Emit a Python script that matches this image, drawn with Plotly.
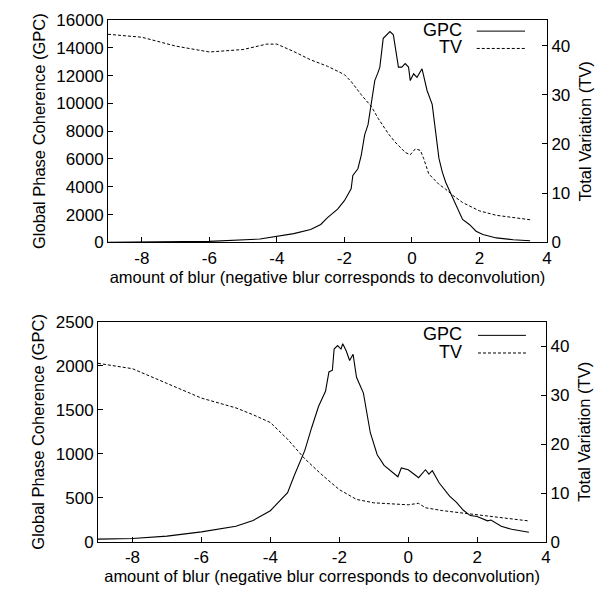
import plotly.graph_objects as go

# ===============================
# DATA
# ===============================
top_gpc_x = [-9, -6, -4.5, -4, -3.5, -3, -2.7, -2.5, -2.2, -2, -1.8, -1.75, -1.6, -1.5, -1.4, -1.3,
             -1.2, -1.1, -1.0, -0.95, -0.85, -0.75, -0.65, -0.55, -0.45, -0.4, -0.3, -0.2, -0.1,
             -0.05, 0.05, 0.15, 0.3, 0.45, 0.6, 0.7, 0.8, 0.9, 1.0, 1.2, 1.4, 1.5, 1.7, 1.9, 2.1,
             2.5, 3, 3.5]
top_gpc_y = [0, 70, 240, 440, 630, 925, 1290, 1780, 2390, 3000, 3850, 4820, 5300, 6280, 7740, 8470,
             9930, 11640, 12250, 12610, 14680, 14930, 15170, 14930, 13340, 12610, 12610, 12860, 12610,
             11640, 12130, 11880, 12490, 10910, 9930, 7990, 6040, 5060, 4330, 3240, 2140, 1650, 1290,
             800, 560, 320, 190, 120]
top_tv_x = [-9, -8, -7, -6, -5, -4.3, -4, -3.5, -3, -2.5, -2, -1.8, -1.5, -1.2, -1, -0.7, -0.5,
            -0.2, -0.05, 0.1, 0.25, 0.35, 0.5, 0.8, 1, 1.2, 1.5, 2, 2.5, 3, 3.5]
top_tv_y = [42.3, 41.7, 39.9, 38.7, 39.2, 40.3, 40.3, 38.8, 37.1, 35.8, 34.1, 32.7, 30, 27.6, 25.2,
            22.1, 20.4, 18.3, 17.8, 19, 18.7, 17, 13.9, 11.8, 10.8, 9.6, 8.1, 6.4, 5.5, 5, 4.6]

bot_gpc_x = [-9, -8, -7, -6, -5, -4.5, -4, -3.7, -3.5, -3.3, -3.1, -3.0, -2.8, -2.6, -2.4, -2.3,
             -2.2, -2.15, -2.05, -1.95, -1.9, -1.8, -1.7, -1.6, -1.5, -1.3, -1.1, -0.9, -0.7, -0.4,
             -0.3, -0.2, 0, 0.2, 0.3, 0.5, 0.6, 0.7, 0.9, 1.2, 1.4, 1.6, 1.8, 2.0, 2.3, 2.4, 2.7,
             3.0, 3.5]
bot_gpc_y = [33, 40, 67, 115, 178, 244, 355, 485, 560, 760, 950, 1040, 1300, 1540, 1710, 1930,
             1950, 2190, 2230, 2190, 2250, 2170, 2060, 2130, 1870, 1690, 1240, 990, 870, 780,
             740, 840, 820, 760, 730, 820, 770, 810, 670, 520, 450, 360, 300, 290, 240, 250, 178,
             144, 110]
bot_tv_x = [-9, -8, -7, -6, -5, -4.5, -4, -3.5, -3, -2.5, -2, -1.5, -1, 0, 0.3, 0.5, 1, 2, 3, 3.5]
bot_tv_y = [36.5, 35.4, 32.4, 29.4, 27.4, 26, 24.4, 21, 17, 13.7, 10.7, 8.7, 8, 7.6, 7.9, 7, 6.4,
            5.6, 4.7, 4.3]

x_ticks = [-8, -6, -4, -2, 0, 2, 4]
x_labels = ["-8", "-6", "-4", "-2", "0", "2", "4"]
x_title = "amount of blur (negative blur corresponds to deconvolution)"
left_title = "Global Phase Coherence (GPC)"
right_title = "Total Variation (TV)"

FONT = "Liberation Sans, Arial, sans-serif"
line_solid = dict(color="black", width=1.1)
line_dash = dict(color="black", width=1, dash="3px,2px")

fig = go.Figure()
fig.add_trace(go.Scatter(x=top_gpc_x, y=top_gpc_y, mode="lines", line=line_solid, xaxis="x", yaxis="y"))
fig.add_trace(go.Scatter(x=top_tv_x, y=top_tv_y, mode="lines", line=line_dash, xaxis="x", yaxis="y2"))
fig.add_trace(go.Scatter(x=bot_gpc_x, y=bot_gpc_y, mode="lines", line=line_solid, xaxis="x2", yaxis="y3"))
fig.add_trace(go.Scatter(x=bot_tv_x, y=bot_tv_y, mode="lines", line=line_dash, xaxis="x2", yaxis="y4"))

ax = dict(showline=True, linecolor="black", linewidth=1, mirror=True, ticks="inside",
          ticklen=5, tickcolor="black", showgrid=False, zeroline=False,
          tickfont=dict(size=17, color="black"), tickformat="d")
xtick = dict(tickvals=x_ticks, ticktext=x_labels, range=[-9, 4])
ttl = dict(size=16.5)

fig.update_layout(
    width=615, height=596, showlegend=False,
    margin=dict(l=90, r=76, t=3, b=62),
    plot_bgcolor="white", paper_bgcolor="white",
    font=dict(family=FONT, size=17, color="black"),
    xaxis=dict(**ax, **xtick, domain=[0.0223, 1.0], anchor="y",
               title=dict(text=x_title, standoff=4, font=ttl)),
    yaxis=dict(**ax, range=[0, 16000], dtick=2000, domain=[0.574, 1.0], anchor="x",
               title=dict(text=left_title, standoff=6, font=ttl)),
    yaxis2=dict(**ax, range=[0, 45.2], tickvals=[0, 10, 20, 30, 40], overlaying="y",
                side="right", anchor="x", title=dict(text=right_title, standoff=10, font=ttl)),
    xaxis2=dict(**ax, **xtick, domain=[0.0, 0.998], anchor="y3",
                title=dict(text=x_title, standoff=4, font=ttl)),
    yaxis3=dict(**ax, range=[0, 2500], dtick=500, domain=[0.0, 0.422], anchor="x2",
                title=dict(text=left_title, standoff=6, font=ttl)),
    yaxis4=dict(**ax, range=[0, 45], tickvals=[0, 10, 20, 30, 40], overlaying="y3",
                side="right", anchor="x2", title=dict(text=right_title, standoff=10, font=ttl)),
)
fig.layout.yaxis.mirror = False
fig.layout.yaxis3.mirror = False

# gnuplot-style keys: label on the left, sample line on the right
keys = [("x domain", "y domain", 0.81, 0.84, 0.95, [0.95, 0.872]),
        ("x2 domain", "y3 domain", 0.816, 0.848, 0.955, [0.938, 0.858])]
for xref, yref, tx, l0, l1, ys in keys:
    for yy, (name, dash) in zip(ys, [("GPC", "solid"), ("TV", "3px,2px")]):
        fig.add_annotation(x=tx, y=yy, xref=xref, yref=yref, text=name, showarrow=False,
                           xanchor="right", yanchor="middle", yshift=1, font=dict(size=18))
        fig.add_shape(type="line", xref=xref, yref=yref, x0=l0, x1=l1, y0=yy, y1=yy,
                      line=dict(color="black", width=1, dash=dash))

fig.write_html("out.html")
